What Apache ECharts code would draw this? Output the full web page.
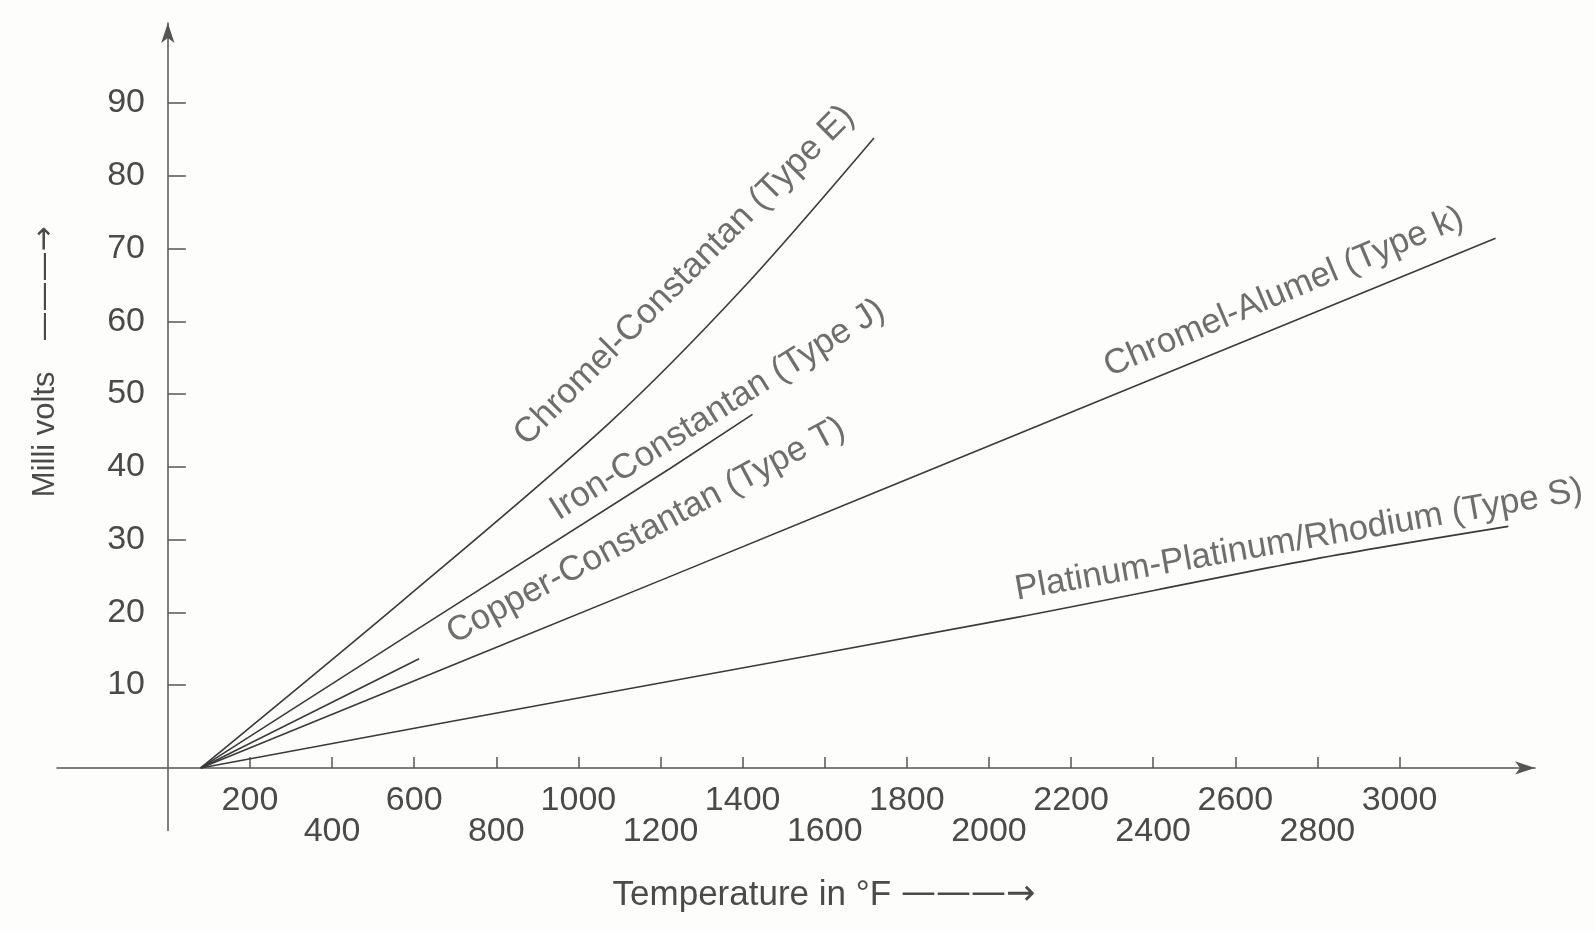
<!DOCTYPE html>
<html>
<head>
<meta charset="utf-8">
<script src="https://cdn.jsdelivr.net/npm/echarts@6/dist/echarts.min.js"></script>
<style>
  html, body { margin: 0; padding: 0; background: #fdfdfc; }
  #chart { width: 1595px; height: 931px; }
</style>
</head>
<body>
<div id="chart"></div>
<script>
var chartDom = document.getElementById("chart")
var chart = echarts.init(chartDom)

// curves: [temperature °F, millivolts]
var typeE = [[80, -1.4], [570, 21.5], [1073, 45.9], [1400, 64.5], [1720, 85.2]]
var typeJ = [[80, -1.4], [650, 19.2], [1227, 39.9], [1424, 47.2]]
var typeT = [[80, -1.4], [612, 13.6]]
var typeK = [[80, -1.4], [1227, 25.0], [2200, 47.5], [3234, 71.4]]
var typeS = [[80, -1.4], [1056, 8.8], [2068, 19.3], [2792, 27.3], [3265, 31.8]]

// curve names, where they are written and at what slant
var curveNames = [
  "Chromel-Constantan (Type E)",
  "Iron-Constantan (Type J)",
  "Copper-Constantan (Type T)",
  "Chromel-Alumel (Type k)",
  "Platinum-Platinum/Rhodium (Type S)",
]
var namePoints = [[1258, 66.3], [1339, 47.8], [1165, 31.2], [2718, 64.0], [2755, 29.9]]
var nameAngles = [45, 32, 28, 23, 10]

var xTicks = [200, 400, 600, 800, 1000, 1200, 1400, 1600, 1800, 2000, 2200, 2400, 2600, 2800, 3000]
var yTicks = [10, 20, 30, 40, 50, 60, 70, 80, 90]

var font = "'Liberation Sans', Arial, sans-serif"
var arrowFont = "'DejaVu Sans', sans-serif"
var ink = "#4a4a4a"
var lineInk = "#3a3a3a"

function curve(name, data, smooth) {
  return {
    name: name,
    type: "line",
    data: data,
    smooth: smooth,
    showSymbol: false,
    silent: true,
    lineStyle: { color: lineInk, width: 1.6 },
  }
}

function getNameData() {
  var out = []
  for (var i = 0; i < curveNames.length; i++) {
    out.push({
      value: namePoints[i],
      label: { rotate: nameAngles[i], formatter: curveNames[i] },
    })
  }
  return out
}

var option = {
  backgroundColor: "#fdfdfc",
  animation: false,
  textStyle: { fontFamily: font },
  grid: {
    left: 57,
    right: 60,
    top: 23,
    bottom: 100.5,
    containLabel: false,
    outerBoundsMode: "none",
  },
  xAxis: {
    type: "value",
    min: -270,
    max: 3330,
    name: "{gap|}Temperature in °F{sp|}{arr|———→}",
    nameLocation: "middle",
    nameGap: 47,
    nameTextStyle: {
      color: ink,
      fontSize: 35,
      fontFamily: font,
      rich: {
        gap: { width: 56 },
        sp: { width: 10 },
        arr: { fontSize: 35, color: ink, fontFamily: arrowFont },
      },
    },
    axisLine: {
      onZero: true,
      onZeroAxisIndex: 1,
      symbol: ["none", "arrow"],
      symbolSize: [10, 20],
      lineStyle: { color: "#555", width: 1.5 },
    },
    axisTick: {
      inside: true,
      length: 11,
      customValues: xTicks,
      lineStyle: { color: "#555", width: 1.5 },
    },
    axisLabel: {
      customValues: xTicks,
      color: ink,
      fontSize: 34,
      lineHeight: 31,
      margin: -45.5,
      formatter: function (v) {
        return (v / 200) % 2 === 1 ? String(v) : "\n" + v
      },
    },
    splitLine: { show: false },
  },
  yAxis: [
    {
      type: "value",
      min: -10,
      max: 101,
      name: "{gap|}Milli volts{sp|}{arr|———→}",
      nameLocation: "middle",
      nameGap: -4,
      nameTextStyle: {
        color: ink,
        fontSize: 31,
        fontFamily: font,
        rich: {
          gap: { width: 130 },
          sp: { width: 30 },
          arr: { fontSize: 30, color: ink, fontFamily: arrowFont },
        },
      },
      axisLine: {
        onZero: true,
        symbol: ["none", "arrow"],
        symbolSize: [10, 20],
        lineStyle: { color: "#555", width: 1.5 },
      },
      axisTick: {
        inside: true,
        length: 18,
        customValues: yTicks,
        lineStyle: { color: "#555", width: 1.5 },
      },
      axisLabel: {
        customValues: yTicks,
        color: ink,
        fontSize: 34,
        margin: -88,
      },
      splitLine: { show: false },
    },
    {
      // hidden helper: its zero is where the temperature axis crosses
      type: "value",
      min: -8.6,
      max: 102.4,
      show: false,
      splitLine: { show: false },
    },
  ],
  series: [
    curve("Type E", typeE, 0.3),
    curve("Type J", typeJ, false),
    curve("Type T", typeT, false),
    curve("Type K", typeK, 0.3),
    curve("Type S", typeS, 0.3),
    {
      name: "names",
      type: "scatter",
      symbolSize: 0,
      silent: true,
      data: getNameData(),
      label: {
        show: true,
        position: "inside",
        align: "center",
        verticalAlign: "middle",
        color: ink,
        fontSize: 35,
        fontFamily: font,
      },
    },
  ],
}

chart.setOption(option)
</script>
</body>
</html>
